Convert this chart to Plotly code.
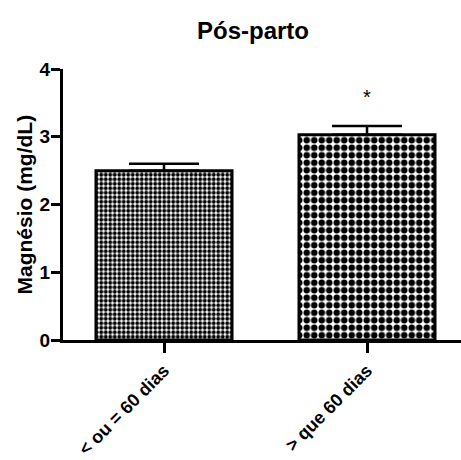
import plotly.graph_objects as go

categories = ["< ou = 60 dias", "> que 60 dias"]
values = [2.50, 3.03]
errors_up = [0.10, 0.13]
errors_down = [0.0, 0.0]
significance = ["", "*"]
y_ticks = [0, 1, 2, 3, 4]
y_title = "Magnésio (mg/dL)"

font_family = "Arial, Liberation Sans, sans-serif"

fig = go.Figure()
fig.add_trace(go.Bar(
    x=[0, 1],
    y=values,
    width=0.67,
    marker=dict(
        color="white",
        line=dict(color="black", width=3),
        pattern=dict(shape=[".", "."], size=[4.5, 7.5], solidity=[0.6, 0.6],
                     fgcolor="black", bgcolor="white", fillmode="replace"),
    ),
    error_y=dict(type="data", symmetric=False, array=errors_up, arrayminus=errors_down,
                 color="black", thickness=2.5, width=35),
    showlegend=False,
))

for i, s in enumerate(significance):
    if s:
        fig.add_annotation(x=i, y=values[i] + errors_up[i] + 0.43, text=s, showarrow=False,
                           font=dict(family=font_family, size=20, color="black"),
                           xanchor="center", yanchor="middle")

# y-axis title placed left of the plot area (paper coords are relative to plot domain)
fig.add_annotation(x=(24 - 63) / 398, y=0.5, xref="paper", yref="paper",
                   text=y_title, textangle=-90, showarrow=False,
                   xanchor="center", yanchor="middle",
                   font=dict(family=font_family, size=21, color="black", weight="bold"))

fig.update_layout(
    width=461, height=460,
    margin=dict(l=63, r=0, t=69, b=120, autoexpand=False),
    paper_bgcolor="white", plot_bgcolor="white",
    title=dict(text="Pós-parto", x=253/461, xanchor="center", y=1 - 31/460, yanchor="middle",
               font=dict(family=font_family, size=24, color="black", weight="bold")),
)
fig.update_xaxes(
    range=[-0.4975, 1.463], automargin=False,
    tickmode="array", tickvals=[0, 1], ticktext=categories, tickangle=-45,
    showline=True, linecolor="black", linewidth=3,
    ticks="outside", ticklen=10, tickwidth=3, tickcolor="black",
    showgrid=False, zeroline=False,
    tickfont=dict(family=font_family, size=18, color="black", weight="bold"),
)
fig.update_yaxes(
    range=[0, 4], automargin=False,
    tickmode="array", tickvals=y_ticks,
    showline=True, linecolor="black", linewidth=3,
    ticks="outside", ticklen=9, tickwidth=3, tickcolor="black",
    ticklabelstandoff=-3,
    showgrid=False, zeroline=False,
    tickfont=dict(family=font_family, size=19, color="black", weight="bold"),
)

fig.write_html("out.html")
